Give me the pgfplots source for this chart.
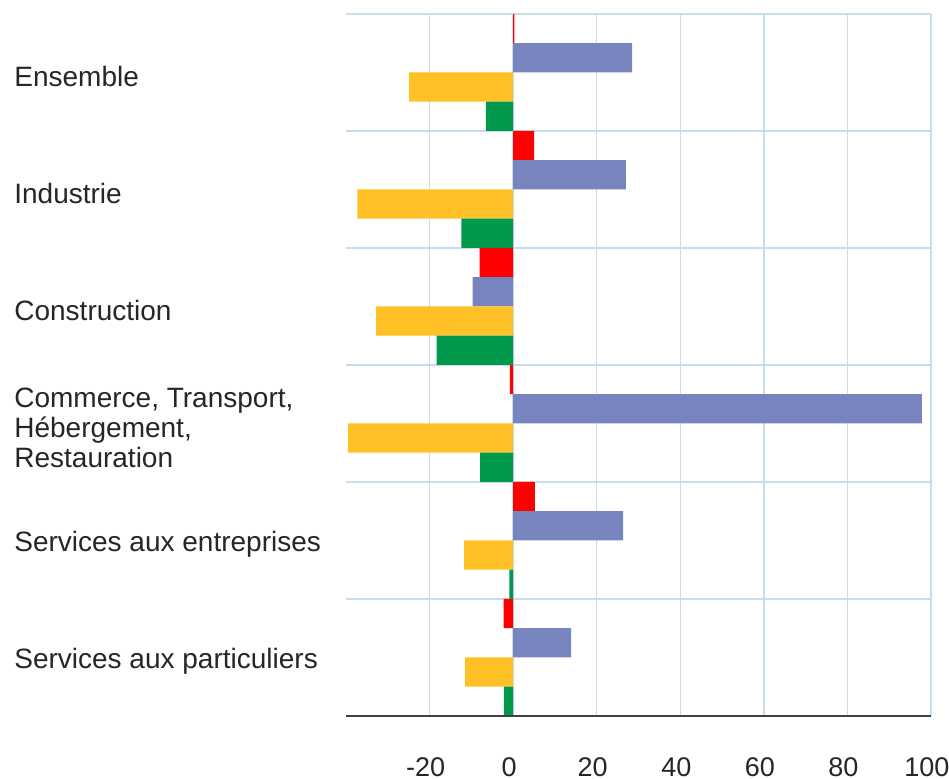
\documentclass[border=0pt]{standalone}
\usepackage{pgfplots}
\pgfplotsset{compat=1.18}
\usepackage{fontspec}
\setmainfont{Liberation Sans}
\definecolor{cred}{HTML}{FF0000}
\definecolor{cblue}{HTML}{7884BE}
\definecolor{cyellow}{HTML}{FFC125}
\definecolor{cgreen}{HTML}{00994C}
\definecolor{gridc}{HTML}{C8DDEB}
\begin{document}
\begin{tikzpicture}
\useasboundingbox (-173pt,-31.5pt) rectangle (301.5pt,358pt);
\begin{axis}[
  at={(0pt,0pt)}, anchor=south west,
  scale only axis, width=292.5pt, height=351pt,
  xbar, bar width=0.25,
  xmin=-40, xmax=100, ymin=-0.5, ymax=5.5, y dir=reverse,
  xtick={-20,0,...,100},
  ytick={0,...,5},
  yticklabels={Ensemble, Industrie, Construction, {Commerce, Transport,\\Hébergement,\\Restauration}, Services aux entreprises, Services aux particuliers},
  minor ytick={-0.5,0.5,...,5.5},
  xmajorgrids, yminorgrids, ymajorgrids=false,
  major grid style={draw=gridc, line width=0.7pt},
  minor grid style={draw=gridc, line width=0.7pt},
  major tick length=0pt, minor tick length=0pt,
  axis line style={draw=none},
  yticklabel style={font=\fontsize{14}{15}\selectfont, text=black!85, anchor=west, align=left, inner sep=0pt, xshift=-166pt, yshift=-2pt},
  xticklabel style={font=\fontsize{13.5}{15}\selectfont, text=black!85, inner sep=0pt, xshift=-2pt, yshift=-20.5pt},
  /pgf/number format/assume math mode=true,
  clip=false,
]
\addplot[fill=cred, draw=none, bar shift=-0.375] coordinates {(0.3,0) (5.0,1) (-8.0,2) (-0.8,3) (5.2,4) (-2.3,5)};
\addplot[fill=cblue, draw=none, bar shift=-0.125] coordinates {(28.5,0) (27.0,1) (-9.7,2) (97.8,3) (26.3,4) (13.9,5)};
\addplot[fill=cyellow, draw=none, bar shift=0.125] coordinates {(-24.9,0) (-37.3,1) (-32.8,2) (-39.5,3) (-11.7,4) (-11.5,5)};
\addplot[fill=cgreen, draw=none, bar shift=0.375] coordinates {(-6.5,0) (-12.4,1) (-18.3,2) (-7.9,3) (-0.9,4) (-2.2,5)};
\draw[draw=black!75, line width=1pt] (axis description cs:0,0) -- (axis description cs:1,0);
\end{axis}
\end{tikzpicture}
\end{document}
